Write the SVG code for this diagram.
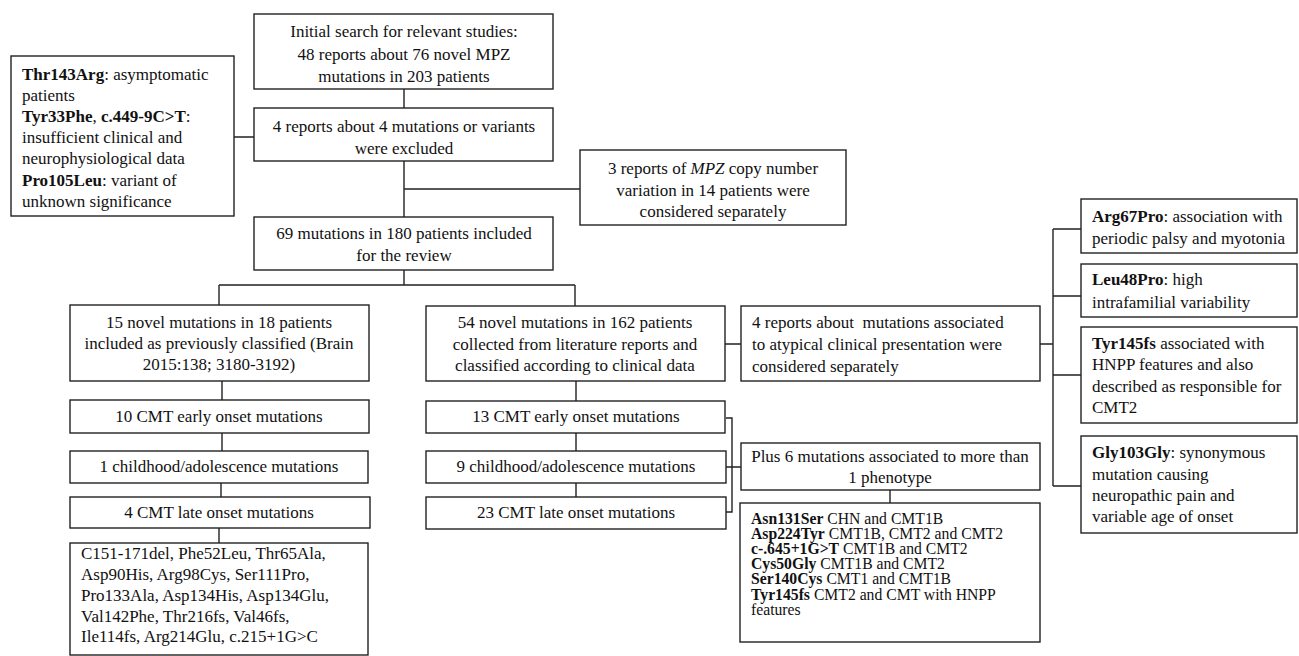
<svg xmlns="http://www.w3.org/2000/svg" width="1299" height="656" viewBox="0 0 1299 656">
<style>
.b{fill:#fff;stroke:#222;stroke-width:1.4}
.c{fill:none;stroke:#222;stroke-width:1.4}
text{font-family:"Liberation Serif","Times New Roman",serif;font-size:17px;fill:#111}
.m{text-anchor:middle}
.s{font-size:15.7px}
.bd{font-weight:bold}
</style>
<rect width="1299" height="656" fill="#fff"/>
<g id="connectors">
<path class="c" d="M404 89V108M234 137H254M404 161V217M404 189H580M404 270V285M219 285H575M219 285V305M575 285V306"/>
<path class="c" d="M222 381V400M222 433V451M221 483V497M219 528V543"/>
<path class="c" d="M576 381V401M576 433V451M576 483V497"/>
<path class="c" d="M725 344H741M1040 344H1053M1053 229V486M1053 229H1081M1053 296H1081M1053 375H1081M1053 486H1081"/>
<path class="c" d="M726 418H732V512H726M726 467H741M890 490V503"/>
</g>
<g id="n-initial"><rect class="b" x="254" y="14" width="299" height="75"/>
<text class="m" x="404" y="37">Initial search for relevant studies:</text>
<text class="m" x="404" y="60">48 reports about 76 novel MPZ</text>
<text class="m" x="404" y="82">mutations in 203 patients</text></g>
<g id="n-excluded"><rect class="b" x="254" y="108" width="299" height="53"/>
<text class="m" x="404" y="132">4 reports about 4 mutations or variants</text>
<text class="m" x="404" y="154">were excluded</text></g>
<g id="n-exclreasons"><rect class="b" x="11" y="56" width="223" height="160"/>
<text x="22" y="80"><tspan class="bd">Thr143Arg</tspan>: asymptomatic</text>
<text x="22" y="101">patients</text>
<text x="22" y="122"><tspan class="bd">Tyr33Phe</tspan>, <tspan class="bd">c.449-9C&gt;T</tspan>:</text>
<text x="22" y="143">insufficient clinical and</text>
<text x="22" y="164">neurophysiological data</text>
<text x="22" y="186"><tspan class="bd">Pro105Leu</tspan>: variant of</text>
<text x="22" y="207">unknown significance</text></g>
<g id="n-cnv"><rect class="b" x="580" y="150" width="266" height="75"/>
<text class="m" x="713" y="174">3 reports of <tspan font-style="italic">MPZ</tspan> copy number</text>
<text class="m" x="713" y="196">variation in 14 patients were</text>
<text class="m" x="713" y="217">considered separately</text></g>
<g id="n-included"><rect class="b" x="254" y="217" width="299" height="53"/>
<text class="m" x="404" y="239">69 mutations in 180 patients included</text>
<text class="m" x="404" y="261">for the review</text></g>
<g id="n-15novel"><rect class="b" x="70" y="305" width="299" height="76"/>
<text class="m" x="219" y="328">15 novel mutations in 18 patients</text>
<text class="m" x="219" y="349">included as previously classified (Brain</text>
<text class="m" x="219" y="370">2015:138; 3180-3192)</text></g>
<g id="n-54novel"><rect class="b" x="426" y="306" width="299" height="75"/>
<text class="m" x="575" y="328">54 novel mutations in 162 patients</text>
<text class="m" x="575" y="350">collected from literature reports and</text>
<text class="m" x="575" y="371">classified according to clinical data</text></g>
<g id="n-atypical"><rect class="b" x="741" y="306" width="299" height="75"/>
<text x="752" y="328" xml:space="preserve">4 reports about  mutations associated</text>
<text x="752" y="350">to atypical clinical presentation were</text>
<text x="752" y="372">considered separately</text></g>
<g id="n-l-early"><rect class="b" x="70" y="400" width="299" height="33"/>
<text class="m" x="219" y="422">10 CMT early onset mutations</text></g>
<g id="n-l-child"><rect class="b" x="70" y="451" width="298" height="32"/>
<text class="m" x="219" y="472">1 childhood/adolescence mutations</text></g>
<g id="n-l-late"><rect class="b" x="70" y="497" width="300" height="31"/>
<text class="m" x="219" y="518">4 CMT late onset mutations</text></g>
<g id="n-l-list"><rect class="b" x="70" y="543" width="298" height="112"/>
<text x="81" y="559">C151-171del, Phe52Leu, Thr65Ala,</text>
<text x="81" y="580">Asp90His, Arg98Cys, Ser111Pro,</text>
<text x="81" y="601">Pro133Ala, Asp134His, Asp134Glu,</text>
<text x="81" y="622">Val142Phe, Thr216fs, Val46fs,</text>
<text x="81" y="642">Ile114fs, Arg214Glu, c.215+1G&gt;C</text></g>
<g id="n-r-early"><rect class="b" x="426" y="401" width="299" height="32"/>
<text class="m" x="576" y="422">13 CMT early onset mutations</text></g>
<g id="n-r-child"><rect class="b" x="426" y="451" width="300" height="32"/>
<text class="m" x="576" y="472">9 childhood/adolescence mutations</text></g>
<g id="n-r-late"><rect class="b" x="426" y="497" width="300" height="32"/>
<text class="m" x="576" y="518">23 CMT late onset mutations</text></g>
<g id="n-plus6"><rect class="b" x="741" y="443" width="299" height="47"/>
<text class="m" x="890" y="462">Plus 6 mutations associated to more than</text>
<text class="m" x="890" y="483">1 phenotype</text></g>
<g id="n-plus6list"><rect class="b" x="740" y="503" width="300" height="139"/>
<text class="s" x="751" y="524"><tspan class="bd">Asn131Ser</tspan> CHN and CMT1B</text>
<text class="s" x="751" y="539"><tspan class="bd">Asp224Tyr</tspan> CMT1B, CMT2 and CMT2</text>
<text class="s" x="751" y="554"><tspan class="bd">c-.645+1G&gt;T</tspan> CMT1B and CMT2</text>
<text class="s" x="751" y="569"><tspan class="bd">Cys50Gly</tspan> CMT1B and CMT2</text>
<text class="s" x="751" y="584"><tspan class="bd">Ser140Cys</tspan> CMT1 and CMT1B</text>
<text class="s" x="751" y="600"><tspan class="bd">Tyr145fs</tspan> CMT2 and CMT with HNPP</text>
<text class="s" x="751" y="615">features</text></g>
<g id="n-arg67"><rect class="b" x="1081" y="199" width="216" height="54"/>
<text x="1092" y="222"><tspan class="bd">Arg67Pro</tspan>: association with</text>
<text x="1092" y="244">periodic palsy and myotonia</text></g>
<g id="n-leu48"><rect class="b" x="1081" y="264" width="216" height="53"/>
<text x="1092" y="285"><tspan class="bd">Leu48Pro</tspan>: high</text>
<text x="1092" y="308">intrafamilial variability</text></g>
<g id="n-tyr145"><rect class="b" x="1081" y="327" width="216" height="96"/>
<text x="1092" y="349"><tspan class="bd">Tyr145fs</tspan> associated with</text>
<text x="1092" y="370">HNPP features and also</text>
<text x="1092" y="392">described as responsible for</text>
<text x="1092" y="413">CMT2</text></g>
<g id="n-gly103"><rect class="b" x="1081" y="436" width="216" height="97"/>
<text x="1092" y="458"><tspan class="bd">Gly103Gly</tspan>: synonymous</text>
<text x="1092" y="480">mutation causing</text>
<text x="1092" y="501">neuropathic pain and</text>
<text x="1092" y="522">variable age of onset</text></g>
</svg>
